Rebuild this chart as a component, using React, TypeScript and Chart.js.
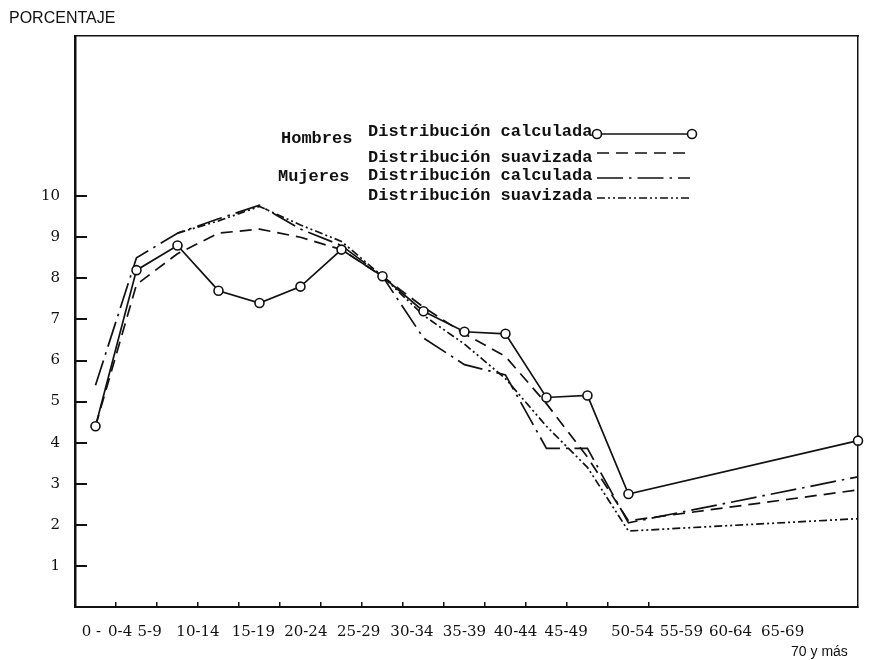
import React, { useEffect, useRef } from 'react';
import { Chart, registerables } from 'chart.js';

Chart.register(...registerables);

// ---- data ----
const TITLE = 'PORCENTAJE';
const ageLabels = ['0 -', '0-4', '5-9', '10-14', '15-19', '20-24', '25-29', '30-34', '35-39', '40-44', '45-49', '50-54', '55-59', '60-64', '65-69', '70 y más'];
// label positions along the age axis (in group units)
const ageLabelPos = [-0.1, 0.6, 1.32, 2.5, 3.85, 5.13, 6.42, 7.72, 9.0, 10.25, 11.48, 13.1, 14.29, 15.49, 16.76, 17.66];
// plotted group positions (in group units)
const groupPos = [0, 1, 2, 3, 4, 5, 6, 7, 8, 9, 10, 11, 12, 13, 18.6];
const groupBoundaries = [0.5, 1.5, 2.5, 3.5, 4.5, 5.5, 6.5, 7.5, 8.5, 9.5, 10.5, 11.5, 12.5, 13.5];
const yTickValues = [1, 2, 3, 4, 5, 6, 7, 8, 9, 10];

const hombresCalculada = [4.4, 8.2, 8.8, 7.7, 7.4, 7.8, 8.7, 8.05, 7.2, 6.7, 6.65, 5.1, 5.15, 2.75, 4.05];
const hombresSuavizada = [4.4, 7.85, 8.6, 9.1, 9.2, 9.0, 8.7, 8.05, 7.3, 6.65, 6.1, 4.95, 3.65, 2.1, 2.85];
const mujeresCalculada = [5.4, 8.5, 9.1, 9.45, 9.78, 9.2, 8.8, 8.05, 6.55, 5.9, 5.65, 3.86, 3.86, 2.05, 3.17];
const mujeresSuavizada = [null, null, 9.1, 9.4, 9.75, 9.3, 8.9, 8.05, 7.1, 6.4, 5.56, 4.4, 3.4, 1.85, 2.15];

const legendGroups = ['Hombres', 'Mujeres'];
const legendSeries = ['Distribución calculada', 'Distribución suavizada'];

const INK = '#111111';
const X_MIN = -0.5;
const X_MAX = 18.6;
const Y_MAX = 13.9;

const toPoints = (vals: (number | null)[]) =>
  vals.map((v, i) => ({ x: groupPos[i], y: v }));

const legendPlugin = {
  id: 'typedLegend',
  afterDraw(chart: any) {
    const ctx = chart.ctx as CanvasRenderingContext2D;
    ctx.save();
    ctx.fillStyle = INK;
    ctx.strokeStyle = INK;
    ctx.textBaseline = 'alphabetic';
    ctx.textAlign = 'left';
    ctx.font = '16px "Liberation Sans", Arial, sans-serif';
    ctx.fillText(TITLE, 9, 23);

    ctx.font = 'bold 17px "Liberation Mono", "DejaVu Sans Mono", monospace';
    ctx.fillText(legendGroups[0], 281, 143);
    ctx.fillText(legendGroups[1], 278, 181);
    const rows = [
      { text: legendSeries[0], base: 136, ds: 0, sy: 134 },
      { text: legendSeries[1], base: 162, ds: 1, sy: 153 },
      { text: legendSeries[0], base: 180, ds: 2, sy: 178 },
      { text: legendSeries[1], base: 200, ds: 3, sy: 198 },
    ];
    rows.forEach((r) => {
      ctx.fillText(r.text, 368, r.base);
      const ds = chart.data.datasets[r.ds];
      ctx.lineWidth = ds.borderWidth;
      ctx.setLineDash(ds.borderDash || []);
      ctx.beginPath();
      ctx.moveTo(597, r.sy);
      ctx.lineTo(r.ds === 0 ? 692 : 690, r.sy);
      ctx.stroke();
      ctx.setLineDash([]);
      if (r.ds === 0) {
        [597, 692].forEach((cx) => {
          ctx.beginPath();
          ctx.arc(cx, r.sy, 4.5, 0, Math.PI * 2);
          ctx.fillStyle = '#fff';
          ctx.fill();
          ctx.lineWidth = 1.6;
          ctx.stroke();
          ctx.fillStyle = INK;
        });
      }
    });
    ctx.restore();
  },
};

export default function App() {
  const canvasRef = useRef<HTMLCanvasElement | null>(null);

  useEffect(() => {
    const canvas = canvasRef.current;
    if (!canvas) return;
    const common = {
      fill: false,
      tension: 0,
      borderColor: INK,
      borderWidth: 1.7,
      pointRadius: 0,
    };
    const chart = new Chart(canvas, {
      type: 'line',
      data: {
        datasets: [
          {
            ...common,
            label: 'Hombres — Distribución calculada',
            data: toPoints(hombresCalculada),
            pointRadius: 4.5,
            pointBackgroundColor: '#ffffff',
            pointBorderColor: INK,
            pointBorderWidth: 1.6,
            clip: false as any,
          },
          {
            ...common,
            label: 'Hombres — Distribución suavizada',
            data: toPoints(hombresSuavizada),
            borderDash: [12, 7],
          },
          {
            ...common,
            label: 'Mujeres — Distribución calculada',
            data: toPoints(mujeresCalculada),
            borderDash: [26, 6, 2.5, 6],
          },
          {
            ...common,
            label: 'Mujeres — Distribución suavizada',
            data: toPoints(mujeresSuavizada),
            borderDash: [8, 3, 2, 3, 2, 3],
          },
        ] as any,
      },
      options: {
        responsive: false,
        animation: false,
        devicePixelRatio: 1,
        layout: { padding: { top: 35, right: 17, left: 0, bottom: 0 } },
        plugins: {
          legend: { display: false },
          title: { display: false },
          tooltip: { enabled: false },
        },
        scales: {
          x: {
            type: 'linear',
            position: 'bottom',
            min: X_MIN,
            max: X_MAX,
            afterBuildTicks: (s: any) => {
              s.ticks = groupBoundaries.map((v) => ({ value: v }));
            },
            afterFit: (s: any) => {
              s.height = 0;
            },
            ticks: { display: false },
            grid: { drawOnChartArea: false, drawTicks: true, tickLength: -5, color: INK, lineWidth: 1.5 },
            border: { display: true, color: INK, width: 2 },
          },
          xl: {
            type: 'linear',
            position: 'bottom',
            min: X_MIN,
            max: X_MAX,
            afterBuildTicks: (s: any) => {
              s.ticks = ageLabelPos.map((v) => ({ value: v }));
            },
            afterFit: (s: any) => {
              s.height = 53;
            },
            grid: { display: false },
            border: { display: false },
            ticks: {
              autoSkip: false,
              maxRotation: 0,
              minRotation: 0,
              padding: 8,
              color: INK,
              callback: (_v: any, i: number) =>
                i === ageLabels.length - 1 ? ['', ageLabels[i]] : ageLabels[i],
              font: (c: any) =>
                c.index === ageLabels.length - 1
                  ? { family: '"Liberation Sans", Arial, sans-serif', size: 14, lineHeight: 1.4 }
                  : { family: '"DejaVu Serif", serif', size: 15, lineHeight: 1.2 },
            },
          },
          x2: {
            type: 'linear',
            position: 'top',
            min: X_MIN,
            max: X_MAX,
            afterFit: (s: any) => {
              s.height = 0;
            },
            grid: { display: false },
            ticks: { display: false },
            border: { display: true, color: INK, width: 1.5 },
          },
          y: {
            type: 'linear',
            position: 'left',
            min: 0,
            max: Y_MAX,
            afterBuildTicks: (s: any) => {
              s.ticks = yTickValues.map((v) => ({ value: v }));
            },
            afterFit: (s: any) => {
              s.width = 75;
            },
            grid: { drawOnChartArea: false, drawTicks: true, tickLength: -12, color: INK, lineWidth: 2 },
            border: { display: true, color: INK, width: 2.5 },
            ticks: {
              padding: 27,
              color: INK,
              font: { family: '"DejaVu Serif", serif', size: 15 },
            },
          },
          y2: {
            type: 'linear',
            position: 'right',
            min: 0,
            max: Y_MAX,
            afterFit: (s: any) => {
              s.width = 0;
            },
            grid: { display: false },
            ticks: { display: false },
            border: { display: true, color: INK, width: 1.5 },
          },
        } as any,
      },
      plugins: [legendPlugin],
    });
    return () => chart.destroy();
  }, []);

  return (
    <div style={{ position: 'absolute', left: 0, top: 0, width: 875, height: 660, background: '#ffffff' }}>
      <canvas ref={canvasRef} width={875} height={660} style={{ display: 'block', width: 875, height: 660 }} />
    </div>
  );
}
